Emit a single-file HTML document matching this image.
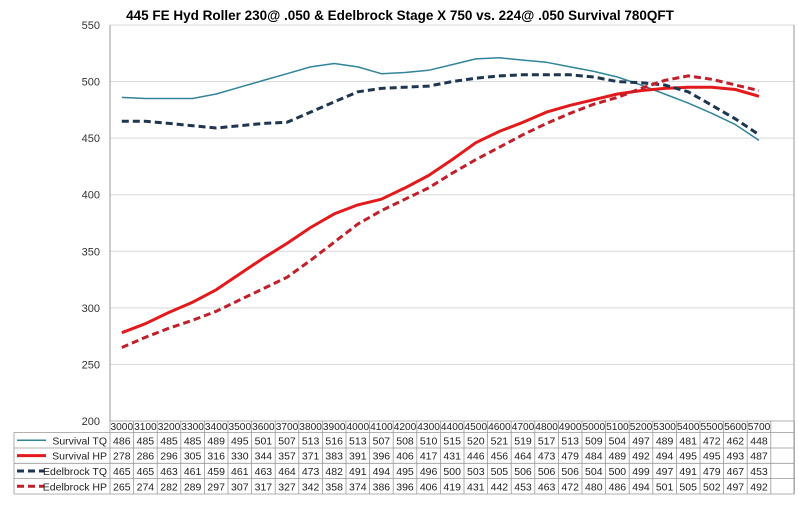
<!DOCTYPE html>
<html><head><meta charset="utf-8"><style>
body{margin:0;background:#fff;}
svg{display:block;font-family:"Liberation Sans",Arial,sans-serif;}
</style></head><body>
<svg id="c" width="799" height="520" viewBox="0 0 799 520">
<text x="400" y="20" text-anchor="middle" font-size="13.5" font-weight="bold">445 FE Hyd Roller 230@ .050 &amp; Edelbrock Stage X 750 vs. 224@ .050 Survival 780QFT</text>
</svg>
<script>
const rpm=[3000,3100,3200,3300,3400,3500,3600,3700,3800,3900,4000,4100,4200,4300,4400,4500,4600,4700,4800,4900,5000,5100,5200,5300,5400,5500,5600,5700];
const survTQ=[486,485,485,485,489,495,501,507,513,516,513,507,508,510,515,520,521,519,517,513,509,504,497,489,481,472,462,448];
const survHP=[278,286,296,305,316,330,344,357,371,383,391,396,406,417,431,446,456,464,473,479,484,489,492,494,495,495,493,487];
const edelTQ=[465,465,463,461,459,461,463,464,473,482,491,494,495,496,500,503,505,506,506,506,504,500,499,497,491,479,467,453];
const edelHP=[265,274,282,289,297,307,317,327,342,358,374,386,396,406,419,431,442,453,463,472,480,486,494,501,505,502,497,492];
const yTicks=[200,250,300,350,400,450,500,550];
const NS="http://www.w3.org/2000/svg";
const svg=document.getElementById('c');
const L=110,T=25,B=421,colW=23.6,R=794,TR=L+colW*29;
const x=i=>L+colW*(i+0.5);
const y=v=>B-(v-200)/350*(B-T);
function mk(tag,a,p){const e=document.createElementNS(NS,tag);for(const k in a)e.setAttribute(k,a[k]);(p||svg).appendChild(e);return e;}
yTicks.forEach(t=>{
 if(t>200){const g=mk('line',{x1:L,x2:R,y1:y(t),y2:y(t),stroke:'#d9d9d9','stroke-width':1});
 
 }
 const tx=mk('text',{x:100,y:y(t)+4,'text-anchor':'end','font-size':11,fill:'#333'});tx.textContent=t;
 
 
});
mk('line',{x1:L,x2:L,y1:T,y2:B,stroke:'#999'});
mk('line',{x1:R,x2:R,y1:T,y2:494,stroke:'#999'});
const series=[
 {name:'Survival TQ',data:survTQ,color:'#31849b',w:1.5,dash:''},
 {name:'Survival HP',data:survHP,color:'#e31a1c',w:3,dash:''},
 {name:'Edelbrock TQ',data:edelTQ,color:'#1f3550',w:3,dash:'7,4'},
 {name:'Edelbrock HP',data:edelHP,color:'#c0202a',w:3,dash:'7,4'}];
series.forEach(s=>{
 const d=s.data.map((v,i)=>(i?'L':'M')+x(i).toFixed(1)+','+y(v).toFixed(1)).join(' ');
 const p=mk('path',{d:d,fill:'none',stroke:s.color,'stroke-width':s.w,'stroke-dasharray':s.dash,'stroke-linejoin':'round'});
 
 
});
// table
const rowY=[421,432.5,448,463.3,478.6,494];
const tc='#999';
for(let i=0;i<=29;i++){mk('line',{x1:L+colW*i,x2:L+colW*i,y1:421,y2:494,stroke:tc,'stroke-width':0.8});}
mk('line',{x1:14,x2:14,y1:432.5,y2:494,stroke:tc,'stroke-width':0.8});
rowY.forEach((yy,j)=>{mk('line',{x1:j==0?L:14,x2:TR,y1:yy,y2:yy,stroke:tc,'stroke-width':0.8});});
rpm.forEach((r,i)=>{const t=mk('text',{x:x(i),y:430,'text-anchor':'middle','font-size':10.5,fill:'#222','textLength':colW-1,'lengthAdjust':'spacingAndGlyphs'});t.textContent=r;
 
 });
series.forEach((s,j)=>{
 const cy=(rowY[j+1]+rowY[j+2])/2;
 mk('line',{x1:17,x2:s.dash?44:46,y1:cy,y2:cy,stroke:s.color,'stroke-width':s.w,'stroke-dasharray':s.dash});
 const lt=mk('text',{x:107,y:cy+4,'text-anchor':'end','font-size':10.5,fill:'#222'});lt.textContent=s.name;
 
 
 s.data.forEach((v,i)=>{const t=mk('text',{x:x(i),y:cy+4,'text-anchor':'middle','font-size':10.5,fill:'#222'});t.textContent=v;});
});
</script>
</body></html>
